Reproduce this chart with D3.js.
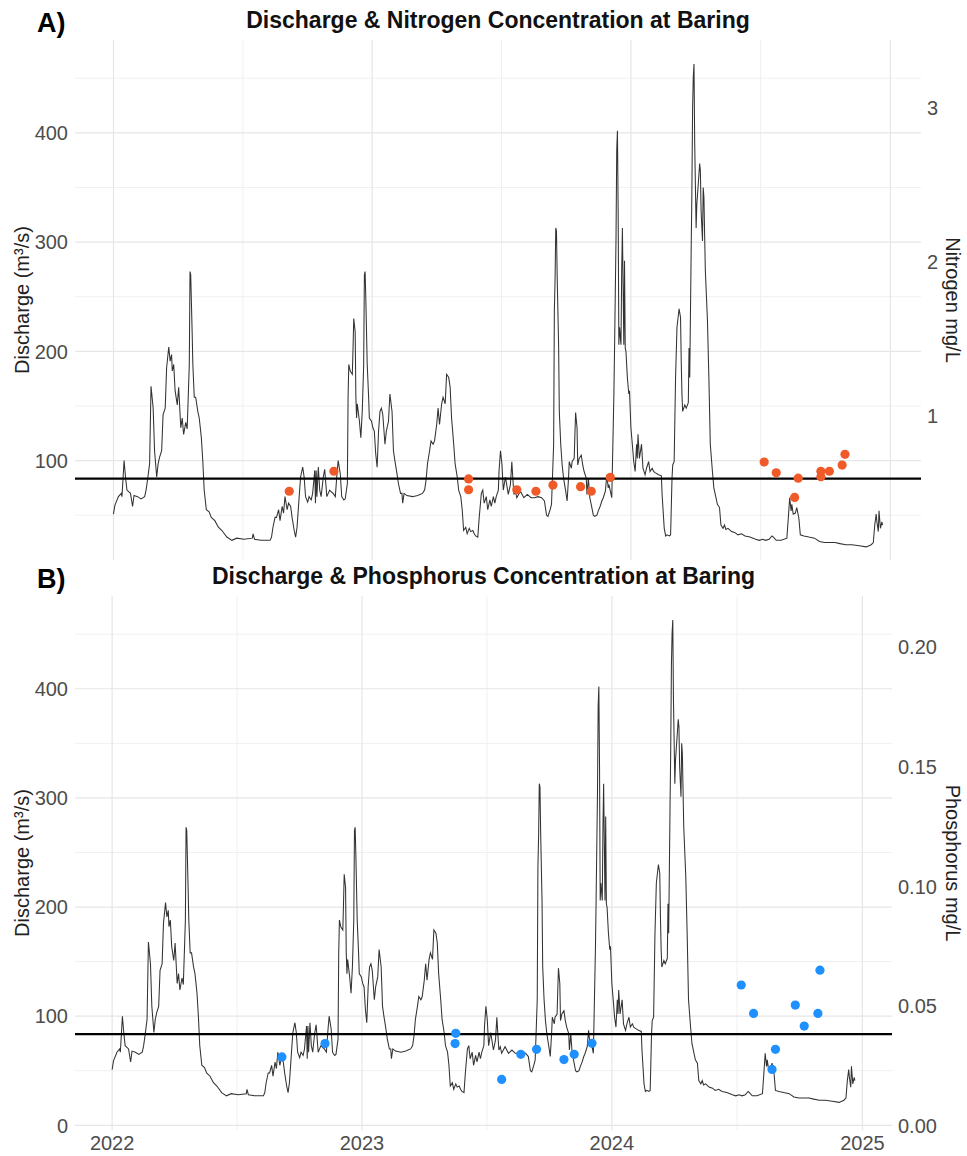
<!DOCTYPE html>
<html><head><meta charset="utf-8">
<script src="https://cdn.jsdelivr.net/npm/d3@7"></script>
<style>
body{margin:0;background:#fff;}
svg{display:block;font-family:"Liberation Sans",Arial,Helvetica,sans-serif;}
</style>
</head><body>
<svg id="chart" width="967" height="1156"></svg>
<script>
// ---------------- DATA ----------------
const startDate = "2022-01-01";
// daily discharge (m³/s): days since startDate
const dischargeDay = [0,2,7,11,12,15,17,19,24,27,29,34,39,44,46,48,51,53,56,58,61,63,65,68,70,73,75,78,80,82,83,85,87,90,92,95,97,99,102,104,107,108,109,111,112,114,116,119,121,124,126,128,131,135,138,143,148,153,160,167,174,184,196,197,199,208,221,223,225,228,230,233,235,238,240,242,245,247,250,252,255,257,259,262,264,267,269,271,274,276,279,281,284,285,286,287,289,291,293,296,298,301,303,305,308,310,313,315,317,320,322,325,327,330,331,332,334,337,338,339,341,342,343,344,347,349,351,353,354,355,356,358,360,361,364,366,368,370,372,374,376,378,380,383,385,388,390,393,395,397,400,402,405,407,408,410,414,422,429,436,439,441,443,446,448,451,453,456,458,460,463,465,468,470,473,475,477,480,482,485,487,490,492,494,497,499,502,504,507,509,511,514,516,519,521,523,526,528,531,533,536,538,540,543,544,546,548,550,553,557,560,562,564,565,567,569,574,579,584,589,594,599,604,608,611,613,616,618,621,622,623,624,625,626,628,629,631,633,635,638,640,642,643,646,647,650,651,652,654,655,657,660,662,664,667,668,670,672,674,677,679,682,684,686,689,691,694,696,698,699,701,703,706,707,709,710,711,712,713,714,716,717,718,720,721,722,723,725,727,728,730,732,734,736,738,739,740,742,745,747,750,752,755,757,760,762,764,769,773,774,777,779,781,784,786,788,789,791,793,795,798,800,801,802,803,806,808,811,812,813,815,816,817,818,819,820,822,823,825,827,828,829,831,832,833,835,838,840,842,845,847,850,852,855,857,860,862,864,867,872,877,881,886,891,898,906,911,916,920,925,929,931,935,942,950,952,954,956,957,959,962,964,967,969,974,981,989,996,1003,1011,1018,1025,1033,1042,1052,1062,1069,1072,1074,1076,1077,1079,1080,1082,1084,1085];
const dischargeValue = [51,59,67,70,67,100,85,73,70,58,68,67,65,67,73,82,97,168,148,109,85,97,103,109,142,148,185,204,191,197,182,188,164,151,167,130,139,124,135,129,188,273,270,218,188,158,158,145,139,121,100,73,55,53,48,45,39,36,30,27,29,28,29,33,28,27,27,30,39,48,48,55,45,58,52,67,55,61,58,48,36,30,39,67,85,94,85,67,62,67,64,70,91,61,91,67,94,73,67,85,92,67,70,73,71,70,67,85,100,88,67,64,65,79,158,188,182,179,203,230,218,158,139,152,136,121,145,188,270,273,249,188,158,139,136,130,127,106,94,127,145,148,142,115,127,136,161,145,109,100,88,79,70,70,61,70,68,67,68,70,73,82,97,109,118,115,118,133,148,133,152,158,152,179,176,167,139,115,97,85,73,67,55,36,39,33,38,35,36,33,31,30,48,70,73,61,67,55,64,58,67,61,67,73,91,109,97,73,85,69,78,99,78,69,72,66,72,66,69,66,66,67,66,63,50,49,55,60,115,237,265,313,310,268,206,145,115,96,84,72,63,84,99,93,99,102,124,144,130,96,102,105,96,90,84,69,84,66,60,50,49,50,54,57,63,66,72,87,75,78,72,66,161,206,304,384,402,329,206,222,206,274,313,206,283,203,200,176,161,164,130,115,99,90,115,102,124,102,115,93,87,93,99,90,93,90,89,87,86,69,38,31,32,31,32,84,96,99,176,222,239,231,191,161,145,151,148,153,203,176,292,344,421,451,463,390,313,335,353,372,365,329,301,350,341,274,228,176,115,90,75,66,60,57,41,38,41,37,38,35,34,32,33,31,30,28,27,28,27,28,31,30,27,27,29,47,66,54,60,51,52,57,47,32,31,30,29,26,25,25,25,24,23,23,22,21,23,25,41,51,44,35,54,38,44,41];

// water-quality samples (days since startDate)
const nitrogenDay   = [248,311,501,501,569,596,620,659,674,701,918,935,966,961,998,998,1010,1028,1032];
const nitrogenValue = [0.51,0.64,0.59,0.52,0.52,0.51,0.55,0.54,0.51,0.60,0.70,0.63,0.595,0.47,0.64,0.605,0.64,0.68,0.75];
const phosphorusDay   = [248,311,502,501,569,597,620,660,675,701,919,937,969,964,998,1011,1031,1034];
const phosphorusValue = [0.0286,0.0342,0.0385,0.0342,0.0192,0.0297,0.0318,0.0275,0.0297,0.0343,0.0587,0.0468,0.0318,0.0234,0.0503,0.0415,0.0468,0.0649];

const thresholdDischarge = 83.5;
const nitrogenToDischarge = 141;     // sec. axis transform
const phosphorusToDischarge = 2190;  // sec. axis transform
const dischargeTicks = [0,100,200,300,400];
const dischargeMinorTicks = [50,150,250,350,450];
const nitrogenTicks = [1,2,3];
const phosphorusTicks = [0,0.05,0.10,0.15,0.20];
const yearTicks = ["2022","2023","2024","2025"];
const titles = ["Discharge & Nitrogen Concentration at Baring","Discharge & Phosphorus Concentration at Baring"];
const tags = ["A)","B)"];
const secTitles = ["Nitrogen mg/L","Phosphorus mg/L"];

// ---------------- DRAW ----------------
const svg = d3.select("#chart");
const t0 = d3.timeParse("%Y-%m-%d")(startDate);
const toDate = d => d3.timeDay.offset(t0, d);
const discharge = dischargeDay.map((d,i)=>({date:toDate(d), q:dischargeValue[i]}));
const nitrogen = nitrogenDay.map((d,i)=>({date:toDate(d), v:nitrogenValue[i]}));
const phosphorus = phosphorusDay.map((d,i)=>({date:toDate(d), v:phosphorusValue[i]}));

const ext = d3.extent(discharge, d=>d.date);
const span = ext[1]-ext[0];
const xDomain = [new Date(+ext[0]-0.05*span), new Date(+ext[1]+0.05*span)];
const yearDates = yearTicks.map(y=>d3.timeParse("%Y")(y));
const minorDates = d3.pairs(yearDates).map(([a,b])=>new Date((+a + +b)/2));

const panels = [
  {left:75,right:921,top:40,bottom:560,yDomain:[9,485],secTicks:nitrogenTicks,secK:nitrogenToDischarge,
   secFmt:d3.format("d"),pts:nitrogen,color:"#F05A28",showX:false},
  {left:75,right:892,top:596,bottom:1130,yDomain:[-4.3,485],secTicks:phosphorusTicks,secK:phosphorusToDischarge,
   secFmt:d3.format(".2f"),pts:phosphorus,color:"#1E90FF",showX:true}
];

const tickSize = 20, titleSize = 20;

panels.forEach((p,pi)=>{
  const x = d3.scaleTime().domain(xDomain).range([p.left,p.right]);
  const y = d3.scaleLinear().domain(p.yDomain).range([p.bottom,p.top]);
  const g = svg.append("g");
  const inY = v => v>=p.yDomain[0] && v<=p.yDomain[1];

  // grid
  g.selectAll(".hmin").data(dischargeMinorTicks.filter(inY)).join("line")
    .attr("x1",p.left).attr("x2",p.right).attr("y1",d=>y(d)).attr("y2",d=>y(d))
    .attr("stroke","#f0f0f0").attr("stroke-width",1);
  g.selectAll(".vmin").data(minorDates).join("line")
    .attr("x1",d=>x(d)).attr("x2",d=>x(d)).attr("y1",p.top).attr("y2",p.bottom)
    .attr("stroke","#f0f0f0").attr("stroke-width",1);
  g.selectAll(".hmaj").data(dischargeTicks.filter(inY)).join("line")
    .attr("x1",p.left).attr("x2",p.right).attr("y1",d=>y(d)).attr("y2",d=>y(d))
    .attr("stroke","#e6e6e6").attr("stroke-width",1.2);
  g.selectAll(".vmaj").data(yearDates).join("line")
    .attr("x1",d=>x(d)).attr("x2",d=>x(d)).attr("y1",p.top).attr("y2",p.bottom)
    .attr("stroke","#e6e6e6").attr("stroke-width",1.2);

  // discharge line
  g.append("path").datum(discharge)
    .attr("d", d3.line().x(d=>x(d.date)).y(d=>y(d.q)))
    .attr("fill","none").attr("stroke","#333").attr("stroke-width",1.05);

  // threshold
  g.append("line").attr("x1",p.left).attr("x2",p.right)
    .attr("y1",y(thresholdDischarge)).attr("y2",y(thresholdDischarge))
    .attr("stroke","#000").attr("stroke-width",2.2);

  // sample points
  g.selectAll(".pt").data(p.pts).join("circle")
    .attr("cx",d=>x(d.date)).attr("cy",d=>y(d.v*p.secK)).attr("r",4.6)
    .attr("fill",p.color);

  // left tick labels
  g.selectAll(".lt").data(dischargeTicks.filter(inY)).join("text")
    .attr("x",p.left-7).attr("y",d=>y(d)).attr("dy","0.36em")
    .attr("text-anchor","end").attr("font-size",tickSize).attr("fill","#4d4d4d").text(d=>d);
  // right tick labels
  g.selectAll(".rt").data(p.secTicks).join("text")
    .attr("x",p.right+6).attr("y",d=>y(d*p.secK)).attr("dy","0.36em")
    .attr("text-anchor","start").attr("font-size",tickSize).attr("fill","#4d4d4d").text(d=>p.secFmt(d));
  // x tick labels
  if(p.showX){
    g.selectAll(".xt").data(yearDates).join("text")
      .attr("x",d=>x(d)).attr("y",p.bottom+13).attr("dy","0.36em")
      .attr("text-anchor","middle").attr("font-size",tickSize).attr("fill","#4d4d4d")
      .text(d=>d3.timeFormat("%Y")(d));
  }
  // axis titles
  const cy = (p.top+p.bottom)/2;
  g.append("text").attr("transform",`translate(22,${cy}) rotate(-90)`).attr("dy","0.36em")
    .attr("text-anchor","middle").attr("font-size",titleSize).attr("fill","#222").text("Discharge (m³/s)");
  g.append("text").attr("transform",`translate(953,${cy}) rotate(90)`).attr("dy","0.36em")
    .attr("text-anchor","middle").attr("font-size",titleSize).attr("fill","#222").text(secTitles[pi]);
  // title and tag
  g.append("text").attr("x",(p.left+p.right)/2).attr("y",p.top-12)
    .attr("text-anchor","middle").attr("font-size",23).attr("font-weight","bold").attr("fill","#111")
    .text(titles[pi]);
  g.append("text").attr("x",37).attr("y",p.top-8)
    .attr("font-size",27).attr("font-weight","bold").attr("fill","#000").text(tags[pi]);
});
</script>
</body></html>
